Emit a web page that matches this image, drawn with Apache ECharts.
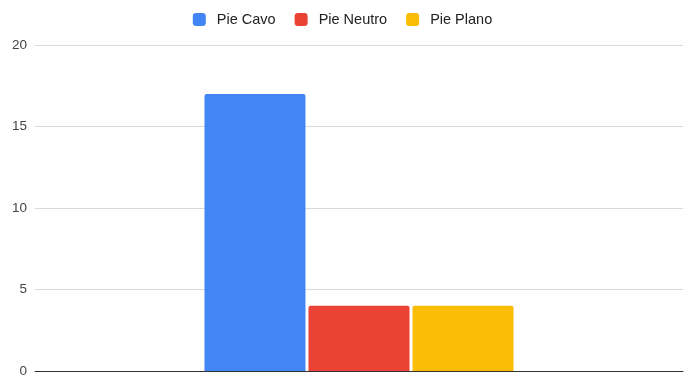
<!DOCTYPE html>
<html>
<head>
<meta charset="utf-8">
<script src="https://cdn.jsdelivr.net/npm/echarts@6/dist/echarts.min.js"></script>
<style>
  html, body { margin: 0; padding: 0; background: #fff; }
  #chart { width: 685px; height: 378px; }
</style>
</head>
<body>
<div id="chart"></div>
<script>
// Foot type counts (one category, three series)
const categories = [''];
const seriesNames = ['Pie Cavo', 'Pie Neutro', 'Pie Plano'];
const pieCavo = [17];
const pieNeutro = [4];
const piePlano = [4];
const seriesColors = ['#4285f4', '#ea4335', '#fbbc04'];
const yTicks = { min: 0, max: 20, interval: 5 };

const values = [pieCavo, pieNeutro, piePlano];

const chart = echarts.init(document.getElementById('chart'), null, { renderer: 'canvas' });
chart.setOption({
  animation: false,
  textStyle: { fontFamily: 'Liberation Sans, Arial, sans-serif' },
  legend: {
    top: 7,
    left: 'center',
    itemWidth: 13,
    itemHeight: 13,
    itemGap: 19,
    icon: 'roundRect',
    textStyle: { fontSize: 14.5, color: '#222', padding: [0, 0, 0, 6] },
    data: seriesNames
  },
  grid: { left: 35, right: 2, top: 45, bottom: 4, containLabel: false },
  xAxis: {
    type: 'category',
    data: categories,
    axisLine: { show: true, lineStyle: { color: '#333', width: 1 } },
    axisTick: { show: false },
    axisLabel: { show: false }
  },
  yAxis: {
    type: 'value',
    min: yTicks.min,
    max: yTicks.max,
    interval: yTicks.interval,
    axisLine: { show: false },
    axisTick: { show: false },
    axisLabel: { color: '#444', fontSize: 13.5, margin: 8 },
    splitLine: { lineStyle: { color: '#d9d9d9', width: 1 } }
  },
  series: seriesNames.map((name, i) => ({
    name: name,
    type: 'bar',
    data: values[i],
    barWidth: 101,
    barGap: '3%',
    itemStyle: { color: seriesColors[i], borderRadius: [2, 2, 0, 0] }
  }))
});
</script>
</body>
</html>
